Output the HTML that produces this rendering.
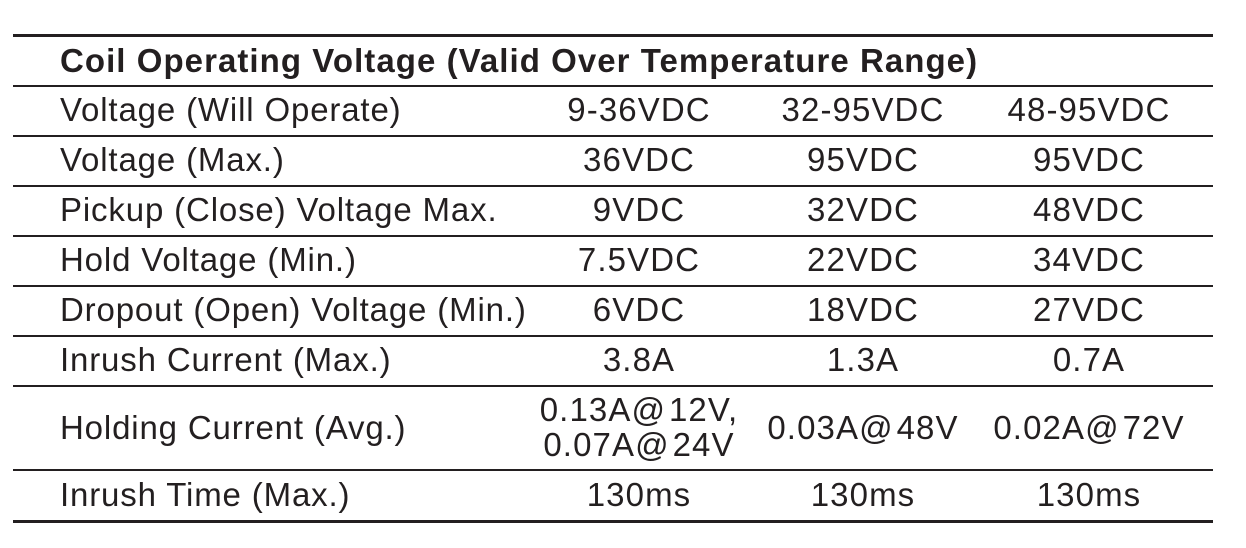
<!DOCTYPE html>
<html><head><style>
body{margin:0;width:1246px;height:548px;background:#fff;position:relative;overflow:hidden;font-family:"Liberation Sans",Arial,sans-serif;color:#231f20}
.l{position:absolute;left:13px;width:1200px;background:#231f20}
.t{position:absolute;font-size:33px;line-height:36px;white-space:nowrap;letter-spacing:0.85px}
.c{position:absolute;font-size:33px;line-height:36px;white-space:nowrap;text-align:center;width:220px;letter-spacing:1.1px;padding-left:1px}
.a{letter-spacing:4px}
</style></head><body>
<div class="l" style="top:34px;height:3px"></div>
<div class="l" style="top:85px;height:2px"></div>
<div class="l" style="top:135px;height:2px"></div>
<div class="l" style="top:185px;height:2px"></div>
<div class="l" style="top:235px;height:2px"></div>
<div class="l" style="top:285px;height:2px"></div>
<div class="l" style="top:335px;height:2px"></div>
<div class="l" style="top:385px;height:2px"></div>
<div class="l" style="top:469px;height:2px"></div>
<div class="l" style="top:520px;height:3px"></div>

<div class="t" style="left:60px;top:43px;font-weight:bold;letter-spacing:1.05px">Coil Operating Voltage (Valid Over Temperature Range)</div>

<div class="t" style="left:60px;top:92px">Voltage (Will Operate)</div>
<div class="c" style="left:528px;top:92px">9-36VDC</div>
<div class="c" style="left:752px;top:92px">32-95VDC</div>
<div class="c" style="left:978px;top:92px">48-95VDC</div>

<div class="t" style="left:60px;top:142px">Voltage (Max.)</div>
<div class="c" style="left:528px;top:142px">36VDC</div>
<div class="c" style="left:752px;top:142px">95VDC</div>
<div class="c" style="left:978px;top:142px">95VDC</div>

<div class="t" style="left:60px;top:192px">Pickup (Close) Voltage Max.</div>
<div class="c" style="left:528px;top:192px">9VDC</div>
<div class="c" style="left:752px;top:192px">32VDC</div>
<div class="c" style="left:978px;top:192px">48VDC</div>

<div class="t" style="left:60px;top:242px">Hold Voltage (Min.)</div>
<div class="c" style="left:528px;top:242px">7.5VDC</div>
<div class="c" style="left:752px;top:242px">22VDC</div>
<div class="c" style="left:978px;top:242px">34VDC</div>

<div class="t" style="left:60px;top:292px">Dropout (Open) Voltage (Min.)</div>
<div class="c" style="left:528px;top:292px">6VDC</div>
<div class="c" style="left:752px;top:292px">18VDC</div>
<div class="c" style="left:978px;top:292px">27VDC</div>

<div class="t" style="left:60px;top:342px">Inrush Current (Max.)</div>
<div class="c" style="left:528px;top:342px">3.8A</div>
<div class="c" style="left:752px;top:342px">1.3A</div>
<div class="c" style="left:978px;top:342px">0.7A</div>

<div class="t" style="left:60px;top:410px">Holding Current (Avg.)</div>
<div class="c" style="left:528px;top:392px">0.13A<span class="a">@</span>12V,</div>
<div class="c" style="left:528px;top:427px">0.07A<span class="a">@</span>24V</div>
<div class="c" style="left:752px;top:410px">0.03A<span class="a">@</span>48V</div>
<div class="c" style="left:978px;top:410px">0.02A<span class="a">@</span>72V</div>

<div class="t" style="left:60px;top:477px">Inrush Time (Max.)</div>
<div class="c" style="left:528px;top:477px">130ms</div>
<div class="c" style="left:752px;top:477px">130ms</div>
<div class="c" style="left:978px;top:477px">130ms</div>
</body></html>
